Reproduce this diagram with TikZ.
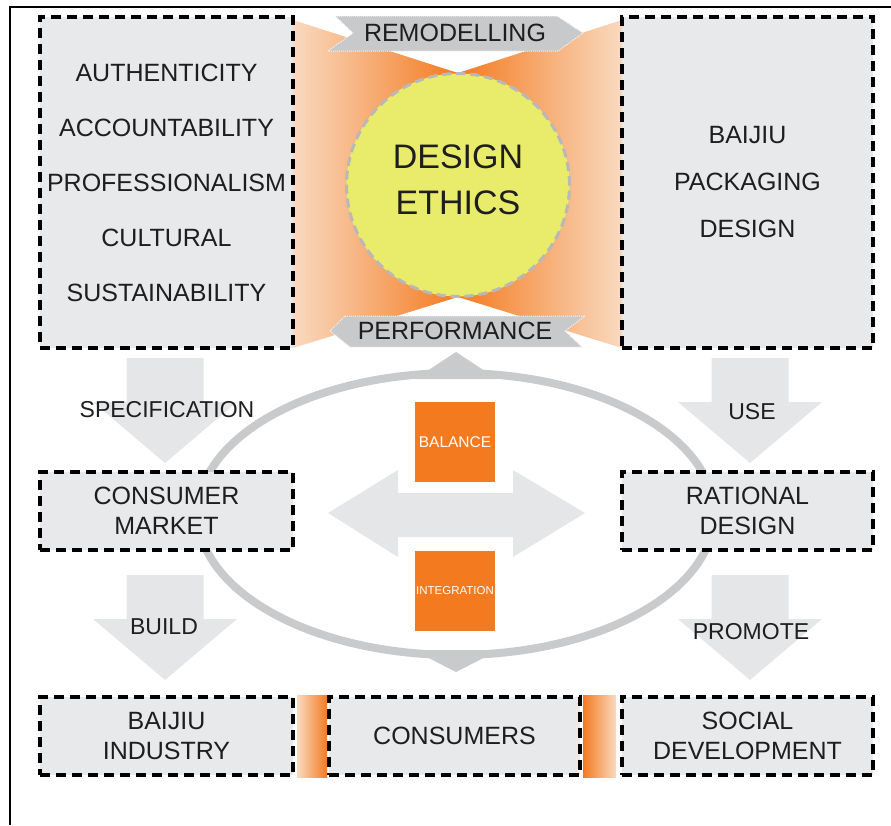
\documentclass[tikz,border=0pt]{standalone}
\usepackage{fontspec}
\setmainfont{Liberation Sans}
\usetikzlibrary{calc}

\definecolor{boxgray}{HTML}{E8E9EA}
\definecolor{arrowgray}{HTML}{E5E6E7}
\definecolor{bannergray}{HTML}{C8C9CA}
\definecolor{ringgray}{HTML}{C9CACB}
\definecolor{orangeC}{HTML}{F47A20}
\definecolor{peach}{HTML}{F9DAC0}
\definecolor{yellowC}{HTML}{E9EC6B}
\definecolor{inkC}{HTML}{1E1E1E}

\begin{document}
\begin{tikzpicture}[x=1pt,y=-1pt,
    dbox/.style={draw=black,line width=3.2pt,dash pattern=on 10pt off 6pt,
      fill=boxgray,inner sep=0pt,align=center,text=inkC,
      font=\fontsize{25}{30}\selectfont},
    wide/.style={minimum width=253pt,minimum height=78pt},
    lbl/.style={text=inkC,inner sep=0pt,font=\fontsize{23}{28}\selectfont},
    sq/.style={fill=orangeC,minimum size=80pt,inner sep=0pt,text=white},
    garrow/.pic={\fill[arrowgray] (-38.5,0) -- (38.5,0) -- (38.5,44) -- (72,44)
      -- (0,105) -- (-72,44) -- (-38.5,44) -- cycle;}]
    \useasboundingbox (0,0) rectangle (891,825);
    \draw[line width=1.8pt] (10,825) -- (10,7) -- (891,7);

    % ring with its two tips
    \draw[ringgray,line width=8pt] (456,514) ellipse [x radius=258pt,y radius=141pt];
    \fill[ringgray] (456,352) -- (497,379) -- (415,379) -- cycle;
    \fill[ringgray] (456,672) -- (413,650) -- (499,650) -- cycle;

    % gray arrows
    \pic at (165,358) {garrow};
    \pic at (750,358) {garrow};
    \pic at (165,575) {garrow};
    \pic at (750,575) {garrow};
    \fill[arrowgray] (328,513) -- (398,470) -- (398,493) -- (513,493) -- (513,470)
      -- (585,513) -- (513,557) -- (513,537) -- (398,537) -- (398,557) -- cycle;

    % orange hourglass and the circle
    \shade[left color=peach,right color=peach,middle color=orangeC]
      (293,20) -- (458,73) -- (622,20) -- (622,348) -- (458,297) -- (293,348) -- cycle;
    \node[circle,minimum size=223pt,fill=yellowC,draw=black!28,line width=3pt,
      dash pattern=on 9pt off 5pt] (ethics) at (458,185) {};
    \node[text=inkC,align=center,yshift=5pt,font=\fontsize{34}{46}\selectfont]
      (ethicstext) at (ethics) {DESIGN\\ETHICS};

    % banners
    \filldraw[fill=bannergray,draw=white!80!bannergray,line width=1pt,densely dotted]
      (335,16) -- (557,16) -- (583,33) -- (558,51) -- (328,51) -- (353,33) -- cycle;
    \filldraw[fill=bannergray,draw=white!80!bannergray,line width=1pt,densely dotted]
      (345,316) -- (585,316) -- (565,331) -- (582,347) -- (350,347) -- (330,331) -- cycle;
    \node[lbl,font=\fontsize{25}{30}\selectfont] (remodel) at (455,33) {REMODELLING};
    \node[lbl,font=\fontsize{25}{30}\selectfont] (perform) at (455,331) {PERFORMANCE};

    % boxes
    \node[dbox,minimum width=253pt,minimum height=331pt,font=\fontsize{25}{55}\selectfont]
      (values) at (166.5,182.5)
      {AUTHENTICITY\\ACCOUNTABILITY\\PROFESSIONALISM\\CULTURAL\\SUSTAINABILITY};
    \node[dbox,minimum width=251pt,minimum height=331pt,font=\fontsize{25}{47}\selectfont]
      (packaging) at (747.5,182.5) {BAIJIU\\PACKAGING\\DESIGN};
    \node[dbox,wide] (market) at (166.5,511) {CONSUMER\\MARKET};
    \node[dbox,wide,minimum width=251pt] (rational) at (747.5,511) {RATIONAL\\DESIGN};
    \node[dbox,wide] (industry) at (166.5,736) {BAIJIU\\INDUSTRY};
    \node[dbox,wide,minimum width=251pt] (consumers) at (454.5,736) {CONSUMERS};
    \node[dbox,wide,minimum width=251pt] (social) at (747.5,736) {SOCIAL\\DEVELOPMENT};
    \shade[left color=peach,right color=orangeC] (297,695) rectangle (327,777);
    \shade[left color=orangeC,right color=peach] (583,695) rectangle (616,777);

    % orange squares
    \node[sq,font=\fontsize{15.5}{18}\selectfont] (balance) at (455,442) {BALANCE};
    \node[sq,font=\fontsize{11.5}{14}\selectfont] (integration) at (455,591) {INTEGRATION};

    % arrow labels
    \node[lbl] (spec) at (167,410) {SPECIFICATION};
    \node[lbl] (use) at (752,412) {USE};
    \node[lbl] (build) at (164,627) {BUILD};
    \node[lbl] (promote) at (751,632) {PROMOTE};
\end{tikzpicture}
\end{document}
